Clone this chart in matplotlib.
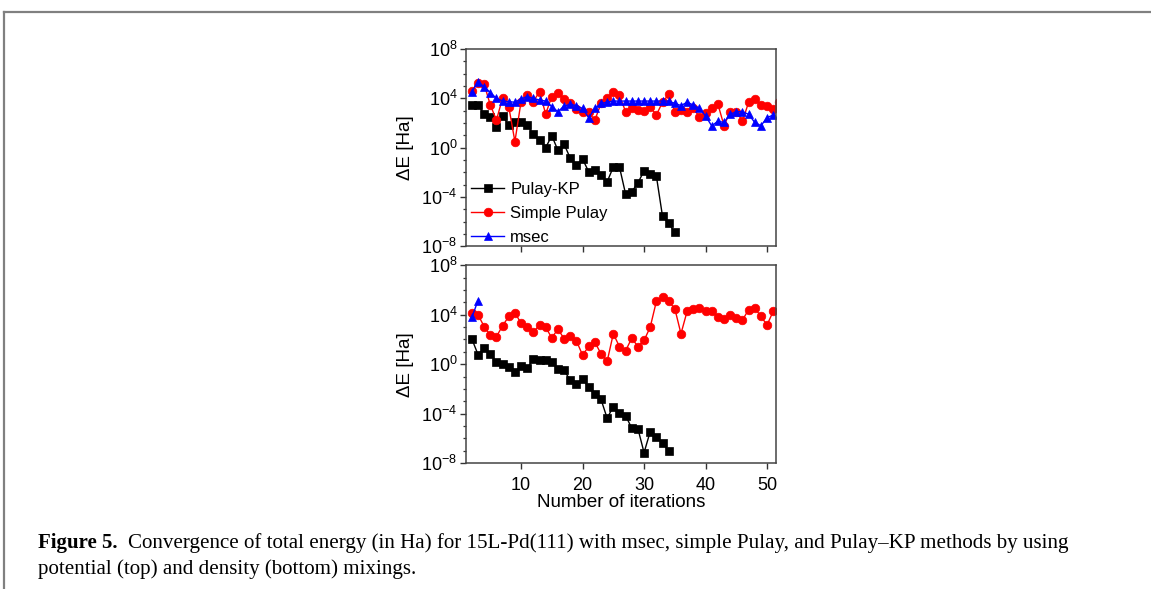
import numpy as np
import matplotlib
matplotlib.use("Agg")
import matplotlib.pyplot as plt
from matplotlib.lines import Line2D
from matplotlib.ticker import FixedLocator, FixedFormatter, NullFormatter

plt.rcParams['font.family'] = ['Liberation Sans', 'DejaVu Sans']
plt.rcParams['mathtext.fontset'] = 'custom'
plt.rcParams['mathtext.rm'] = 'Liberation Sans'
plt.rcParams['mathtext.it'] = 'Liberation Sans:italic'
plt.rcParams['mathtext.bf'] = 'Liberation Sans:bold'

# ---------------- data ----------------
# Top panel: potential mixing (first iteration plotted = 2)
top_first_iter = 2
top_pulay_kp = [2.9e3, 2.9e3, 5.4e2, 3.2e2, 5.0e1, 3.7e2, 6.9e1, 1.3e2, 1.3e2, 6.9e1,
                1.2e1, 4.2, 1.0, 9.3, 6.0e-1, 1.9, 1.4e-1, 3.9e-2, 1.2e-1, 1.1e-2,
                1.5e-2, 6.0e-3, 1.7e-3, 2.7e-2, 2.7e-2, 1.7e-4, 2.6e-4, 1.4e-3, 1.3e-2, 7.8e-3,
                5.0e-3, 2.7e-6, 7.2e-7, 1.4e-7]
top_simple_pulay = [4.2e4, 1.9e5, 1.4e5, 2.9e3, 1.7e2, 1.1e4, 2.1e3, 3.1, 5.4e3, 1.9e4,
                    5.4e3, 3.5e4, 5.4e2, 1.4e4, 2.9e4, 8.9e3, 3.9e3, 1.4e3, 8.3e2, 7.2e2,
                    1.7e2, 3.9e3, 1.0e4, 3.5e4, 1.7e4, 8.3e2, 1.7e3, 1.1e3, 1.0e3, 2.0e3,
                    4.5e2, 4.8e3, 2.1e4, 8.3e2, 1.1e3, 7.2e2, 1.5e3, 3.2e2, 6.0e2, 1.7e3,
                    3.5e3, 6.0e1, 8.3e2, 8.3e2, 1.4e2, 4.8e3, 8.9e3, 2.9e3, 2.6e3, 1.3e3,
                    5.4e3]
top_msec = [3.5e4, 2.0e5, 8.9e4, 2.9e4, 1.0e4, 6.0e3, 5.4e3, 4.8e3, 8.9e3, 1.4e4,
            1.0e4, 7.2e3, 6.0e3, 2.1e3, 8.3e2, 2.4e3, 3.2e3, 2.6e3, 1.5e3, 2.7e2,
            1.5e3, 3.9e3, 4.8e3, 6.0e3, 6.0e3, 6.0e3, 6.0e3, 6.0e3, 6.0e3, 6.0e3,
            6.0e3, 6.0e3, 6.0e3, 3.9e3, 2.6e3, 4.8e3, 2.9e3, 1.5e3, 3.7e2, 5.8e1,
            1.4e2, 1.1e2, 5.0e2, 8.3e2, 8.3e2, 5.0e2, 1.1e2, 6.0e1, 2.7e2, 4.5e2]

# Bottom panel: density mixing
bot_first_iter = 2
bot_pulay_kp = [1.1e2, 6.0, 1.9e1, 7.2, 1.4, 1.0, 5.8e-1, 2.4e-1, 6.9e-1, 4.5e-1,
                2.6, 2.2, 2.2, 1.4, 4.2e-1, 3.2e-1, 4.8e-2, 2.4e-2, 6.5e-2, 1.3e-2,
                3.7e-3, 1.4e-3, 4.2e-5, 3.7e-4, 1.1e-4, 6.9e-5, 6.5e-6, 6.0e-6, 6.9e-8, 3.5e-6,
                1.3e-6, 3.9e-7, 1.0e-7]
bot_simple_pulay = [1.5e4, 1.0e4, 1.1e3, 2.2e2, 1.7e2, 1.3e3, 7.2e3, 1.5e4, 2.0e3, 1.0e3,
                    3.9e2, 1.4e3, 1.0e3, 1.3e2, 7.2e2, 1.1e2, 2.0e2, 7.8e1, 5.4, 2.7e1,
                    6.0e1, 6.9, 1.7, 2.9e2, 2.6e1, 1.2e1, 1.3e2, 2.6e1, 8.3e1, 1.0e3,
                    1.2e5, 2.7e5, 1.2e5, 3.1e4, 2.9e2, 1.9e4, 3.1e4, 3.5e4, 1.9e4, 1.9e4,
                    6.0e3, 4.5e3, 1.0e4, 5.4e3, 3.7e3, 2.6e4, 3.5e4, 7.2e3, 1.5e3, 1.9e4]
bot_msec = [6.0e3, 1.4e5]

series_labels = ["Pulay-KP", "Simple Pulay", "msec"]
x_ticks = [10, 20, 30, 40, 50]
y_ticks = [1e-8, 1e-4, 1e0, 1e4, 1e8]
y_tick_labels = ["10$^{-8}$", "10$^{-4}$", "10$^{0}$", "10$^{4}$", "10$^{8}$"]
y_minor = [10.0 ** k for k in range(-8, 9)]

x_label = "Number of iterations"
y_label = "ΔE [Ha]"
caption_bold = "Figure 5."
caption_line1 = "Convergence of total energy (in Ha) for 15L-Pd(111) with msec, simple Pulay, and Pulay\u2013KP methods by using"
caption_line2 = "potential (top) and density (bottom) mixings."

# ---------------- figure ----------------
W, H = 1151, 589
fig = plt.figure(figsize=(W / 100, H / 100), dpi=100)

def frac_box(l, t, r, b):
    return [l / W, 1 - b / H, (r - l) / W, (b - t) / H]

ax1 = fig.add_axes(frac_box(465.7, 49, 776.3, 246.3))
ax2 = fig.add_axes(frac_box(465.7, 265.3, 776.3, 463))

styles = [
    dict(color='black', marker='s', markersize=5.2),
    dict(color='#ff0000', marker='o', markersize=6.2),
    dict(color='#0000ff', marker='^', markersize=6.2),
]

def iters(first, vals):
    return np.arange(first, first + len(vals))

for ax, data, first in [(ax1, [top_pulay_kp, top_simple_pulay, top_msec], top_first_iter),
                        (ax2, [bot_pulay_kp, bot_simple_pulay, bot_msec], bot_first_iter)]:
    for vals, st, lab in zip(data, styles, series_labels):
        ax.plot(iters(first, vals), vals, lw=1.0, label=lab,
                markeredgewidth=0.5, markeredgecolor=st['color'], **st)
    ax.set_yscale('log')
    ax.set_ylim(1e-8, 1e8)
    ax.set_xlim(1.0, 51.5)
    ax.yaxis.set_major_locator(FixedLocator(y_ticks))
    ax.yaxis.set_major_formatter(FixedFormatter(y_tick_labels))
    ax.yaxis.set_minor_locator(FixedLocator(y_minor))
    ax.yaxis.set_minor_formatter(NullFormatter())
    ax.xaxis.set_major_locator(FixedLocator(x_ticks))
    ax.tick_params(axis='both', which='major', direction='out', length=4, width=1.0,
                   labelsize=13, color='#333333', pad=2)
    ax.tick_params(axis='y', which='minor', direction='out', length=2.5, width=0.9,
                   color='#333333')
    for sp in ax.spines.values():
        sp.set_color('#444444')
        sp.set_linewidth(1.1)
    ax.set_ylabel(y_label, fontsize=13.5, labelpad=5)

ax1.tick_params(axis='x', labelbottom=False)
ax2.tick_params(axis='x', pad=6)
ax2.set_xlabel(x_label, fontsize=13.5, labelpad=0)

leg = ax1.legend(loc='lower left', bbox_to_anchor=(-0.015, -0.045), frameon=False,
                 fontsize=12, handlelength=2.0, handletextpad=0.35, labelspacing=0.56,
                 borderaxespad=0.2)

# outer frame lines (page box)
fig.add_artist(Line2D([4 / W, 1.0], [1 - 12 / H, 1 - 12 / H], color='#808080', lw=1.6,
                      transform=fig.transFigure))
fig.add_artist(Line2D([4 / W, 4 / W], [1 - 12 / H, 0.0], color='#808080', lw=1.6,
                      transform=fig.transFigure))

# caption
cap_font = ['Liberation Serif', 'DejaVu Serif']
t_bold = fig.text(38 / W, 1 - 543 / H, caption_bold, fontsize=15, fontweight='bold',
                  family=cap_font, va='center', ha='left')
fig.canvas.draw()
bb = t_bold.get_window_extent()
fig.text((bb.x1 + 10) / W, 1 - 543 / H, caption_line1, fontsize=15.1, family=cap_font,
         va='center', ha='left')
fig.text(38 / W, 1 - 569 / H, caption_line2, fontsize=15.1, family=cap_font,
         va='center', ha='left')

fig.savefig('out.png', dpi=100)
